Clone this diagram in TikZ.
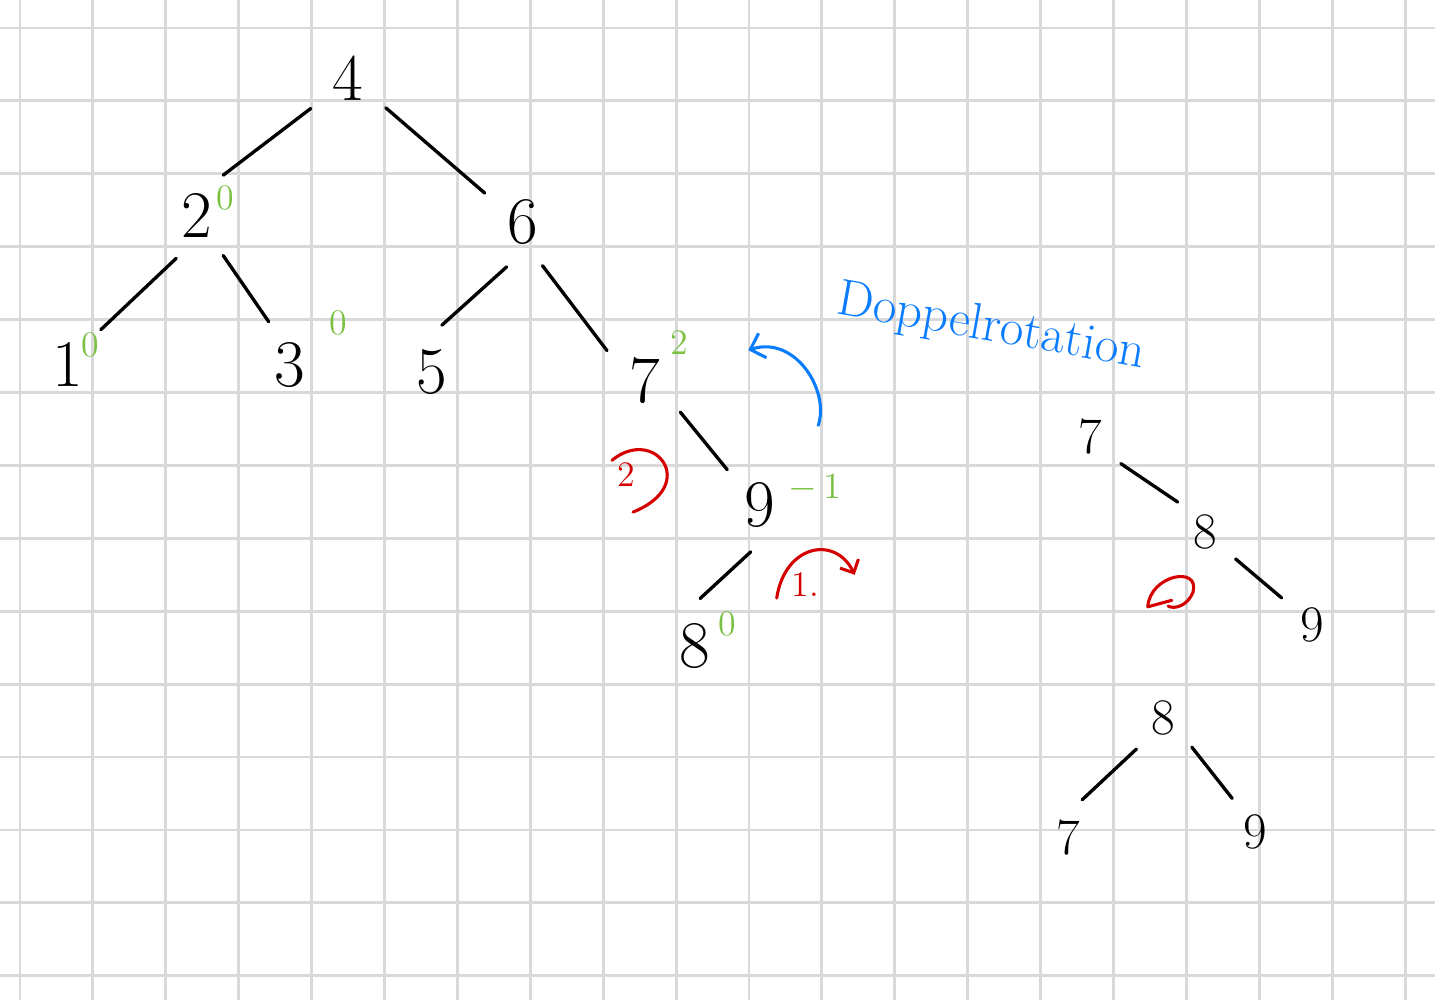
\documentclass[tikz,border=0pt]{standalone}
\usepackage{tikz}
\usetikzlibrary{arrows.meta}
\definecolor{gridgray}{RGB}{217,217,217}
\definecolor{balgreen}{RGB}{122,193,66}
\definecolor{notered}{RGB}{212,0,0}
\definecolor{noteblue}{RGB}{10,124,255}
\begin{document}
\begin{tikzpicture}[
		key/.style={circle, minimum size=1.3cm, inner sep=0pt, font=\fontsize{26}{30}\selectfont},
		smallkey/.style={circle, minimum size=1.1cm, inner sep=0pt, font=\fontsize{20}{24}\selectfont},
		bal/.style={text=balgreen, inner sep=0pt, font=\fontsize{14}{16}\selectfont},
		edge/.style={black, line width=1.3pt, line cap=round},
		rednote/.style={notered, line width=1.2pt, line cap=round},
		bluenote/.style={noteblue, line width=1.2pt, line cap=round}]
		\useasboundingbox (-0.274,0.384) rectangle (19.41,-13.33);
		\draw [gridgray, line width=1.1pt] (-0.274,-13.33) grid (19.41,0.384);
		% left tree
		\node [key] (n4) at (4.50,-0.69) {4};
		\node [key] (n2) at (2.43,-2.57) {2};
		\node [key] (n6) at (6.90,-2.66) {6};
		\node [key] (n1) at (0.66,-4.62) {1};
		\node [key] (n3) at (3.70,-4.62) {3};
		\node [key] (n5) at (5.65,-4.72) {5};
		\node [key] (n7) at (8.57,-4.83) {7};
		\node [key] (n9) at (10.15,-6.54) {9};
		\node [key] (n8) at (9.26,-8.48) {8};
		\draw [edge] (n4.219) -- (n2.57);
		\draw [edge] (n4.322) -- (n6.143);
		\draw [edge] (n2.244) -- (n1.47);
		\draw [edge] (n2.303) -- (n3.116);
		\draw [edge] (n6.250) -- (n5.78);
		\draw [edge] (n6.294) -- (n7.142);
		\draw [edge] (n7.318) -- (n9.133);
		\draw [edge] (n9.259) -- (n8.84);
		% balance factors
		\node [bal] (b2) at (2.81,-2.33) {0};
		\node [bal] (b1) at (0.97,-4.35) {0};
		\node [bal] (b3) at (4.36,-4.05) {0};
		\node [bal] (b7) at (9.05,-4.32) {2};
		\node [bal] (b9) at (10.90,-6.31) {$-\,1$};
		\node [bal] (b8) at (9.70,-8.17) {0};
		% rotation notes
		\node [text=notered, font=\fontsize{14}{16}\selectfont] (r2) at (8.31,-6.13) {2};
		\draw [rednote] (8.12,-5.93) .. controls (8.71,-5.45) and (9.33,-6.27) .. (8.41,-6.64);
		\node [text=notered, font=\fontsize{14}{16}\selectfont] (r1) at (10.77,-7.64) {1.};
		\draw [rednote, -{Straight Barb[length=4pt]}] (10.38,-7.82) .. controls (10.49,-7.09) and (11.18,-6.95) .. (11.45,-7.50);
		\draw [bluenote, {Straight Barb[length=5pt]}-] (9.99,-4.42) .. controls (10.63,-4.21) and (11.11,-4.97) .. (10.95,-5.45);
		\node [text=noteblue, rotate=-10, font=\fontsize{20}{24}\selectfont] (dr) at (13.32,-4.12) {Doppelrotation};
		% right trees
		\node [smallkey] (r7) at (14.68,-5.61) {7};
		\node [smallkey] (r8) at (16.26,-6.91) {8};
		\node [smallkey] (r9) at (17.72,-8.19) {9};
		\draw [edge] (r7.319) -- (r8.133);
		\draw [edge] (r8.318) -- (r9.138);
		\draw [rednote] (15.47,-7.94) .. controls (15.50,-7.50) and (16.19,-7.37) .. (16.09,-7.74) .. controls (16.02,-7.92) and (15.84,-7.98) .. (15.75,-7.93);
		\draw [rednote] (15.47,-7.94) -- (15.80,-7.85);
		\node [smallkey] (s8) at (15.68,-9.47) {8};
		\node [smallkey] (s7) at (14.38,-11.11) {7};
		\node [smallkey] (s9) at (16.94,-11.03) {9};
		\draw [edge] (s8.229) -- (s7.70);
		\draw [edge] (s8.315) -- (s9.124);
	\end{tikzpicture}
\end{document}
